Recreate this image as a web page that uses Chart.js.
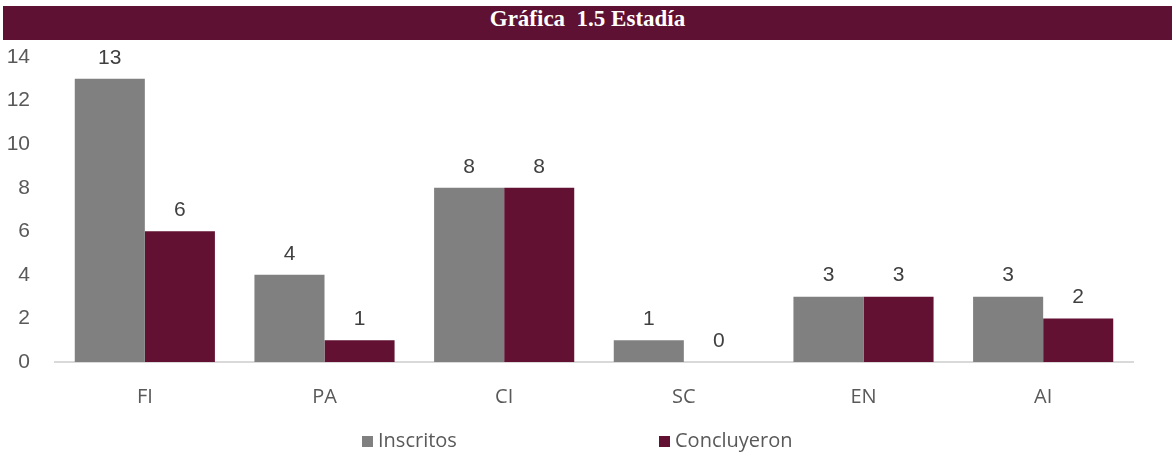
<!DOCTYPE html>
<html>
<head>
<meta charset="utf-8">
<script src="https://cdn.jsdelivr.net/npm/chart.js@4"></script>
<style>
  body { margin: 0; background: #fff; }
  #wrap { position: relative; width: 1172px; height: 453px; }
  #titulo {
    position: absolute; left: 3px; top: 6px; width: 1169px; height: 34px;
    background: #5e1132; color: #fff; text-align: center; line-height: 34px;
    font: bold 23px "Liberation Serif", serif; white-space: pre;
  }
  .ley { position: absolute; top: 427px; font: 20px "Open Sans", sans-serif; color: #595959; line-height: 26px; }
  .ley i { display: inline-block; width: 11px; height: 11px; margin-right: 5px; vertical-align: 0px; }
  canvas { position: absolute; left: 0; top: 0; }
</style>
</head>
<body>
<div id="wrap">
  <canvas id="grafica" width="1172" height="453"></canvas>
  <div id="titulo">Gráfica  1.5 Estadía</div>
  <div class="ley" style="left:362px"><i style="background:#808080"></i>Inscritos</div>
  <div class="ley" style="left:659px"><i style="background:#621132"></i>Concluyeron</div>
</div>
<script>
// Datos de la gráfica
const categorias = ['FI', 'PA', 'CI', 'SC', 'EN', 'AI'];
const inscritos = [13, 4, 8, 1, 3, 3];
const concluyeron = [6, 1, 8, 0, 3, 2];

// Etiquetas de valor sobre las barras
const etiquetas = {
  id: 'etiquetas',
  afterDatasetsDraw(chart) {
    const ctx = chart.ctx;
    ctx.save();
    ctx.font = '21px "Liberation Sans", Arial, sans-serif';
    ctx.fillStyle = '#404040';
    ctx.textAlign = 'center';
    ctx.textBaseline = 'middle';
    chart.data.datasets.forEach((ds, i) => {
      chart.getDatasetMeta(i).data.forEach((bar, j) => {
        ctx.fillText(String(ds.data[j]), bar.x, bar.y - 21);
      });
    });
    ctx.restore();
  }
};

new Chart(document.getElementById('grafica'), {
  type: 'bar',
  data: {
    labels: categorias,
    datasets: [
      { label: 'Inscritos', data: inscritos, backgroundColor: '#808080' },
      { label: 'Concluyeron', data: concluyeron, backgroundColor: '#621132' }
    ]
  },
  options: {
    responsive: false,
    animation: false,
    categoryPercentage: 0.78,
    barPercentage: 1,
    layout: { padding: { top: 57, right: 39, bottom: 0, left: 0 } },
    plugins: { legend: { display: false }, tooltip: { enabled: false } },
    scales: {
      x: {
        grid: { display: false },
        border: { display: true, color: '#d9d9d9', width: 2 },
        ticks: { color: '#595959', font: { family: 'Open Sans', size: 20 }, padding: 15 },
        afterFit(s) { s.height = 91; }
      },
      y: {
        min: 0, max: 14,
        grid: { display: false },
        border: { display: false },
        ticks: { stepSize: 2, color: '#595959', font: { family: 'Liberation Sans', size: 21 }, padding: 17 },
        afterFit(s) { s.width = 55; }
      }
    }
  },
  plugins: [etiquetas]
});
</script>
</body>
</html>
